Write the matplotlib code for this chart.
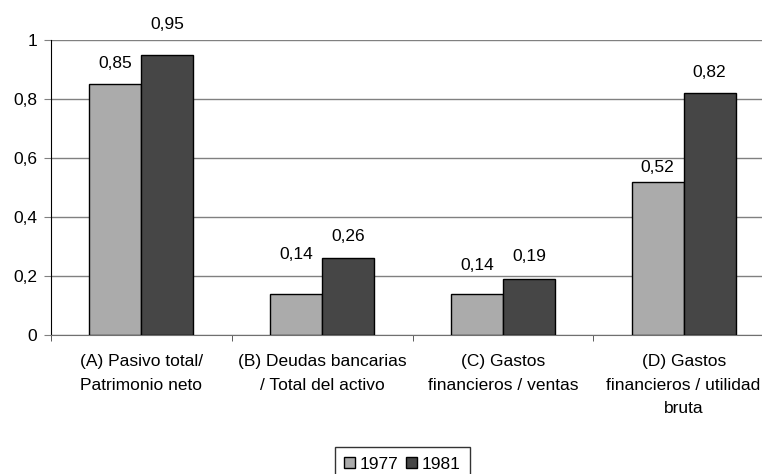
import matplotlib
matplotlib.use("Agg")
import matplotlib.pyplot as plt
import numpy as np

categories = [
    "(A) Pasivo total/\nPatrimonio neto",
    "(B) Deudas bancarias\n/ Total del activo",
    "(C) Gastos\nfinancieros / ventas",
    "(D) Gastos\nfinancieros / utilidad\nbruta",
]
years = ["1977", "1981"]
values_1977 = [0.85, 0.14, 0.14, 0.52]
values_1981 = [0.95, 0.26, 0.19, 0.82]
yticks = [0, 0.2, 0.4, 0.6, 0.8, 1]
ytick_labels = ["0", "0,2", "0,4", "0,6", "0,8", "1"]

# vertical offset (pixels) of each value label's centre above its bar
label_lift_1977 = [21, 39, 28, 14]
label_lift_1981 = [30, 22, 22, 21]

plt.rcParams["font.family"] = ["Liberation Sans", "DejaVu Sans"]
FS = 12.5
plt.rcParams["font.size"] = FS

W, H = 762, 474
fig = plt.figure(figsize=(W / 100, H / 100), dpi=100)
left, right, top, bottom = 51, 774, 40, 335
ax = fig.add_axes([left / W, 1 - bottom / H, (right - left) / W, (bottom - top) / H])

x = np.arange(len(categories))
bw = 0.287
light, dark = "#ABABAB", "#464646"
b1 = ax.bar(x - bw / 2, values_1977, bw, color=light, edgecolor="black", linewidth=1, label=years[0], zorder=3)
b2 = ax.bar(x + bw / 2, values_1981, bw, color=dark, edgecolor="black", linewidth=1, label=years[1], zorder=3)

def fmt(v):
    return f"{v:.2f}".replace(".", ",")

px = 72 / 100
for bars, vals, lifts in ((b1, values_1977, label_lift_1977), (b2, values_1981, label_lift_1981)):
    for rect, v, lift in zip(bars, vals, lifts):
        ax.annotate(fmt(v), (rect.get_x() + rect.get_width() / 2, v),
                    xytext=(0, lift * px), textcoords="offset points",
                    ha="center", va="center", fontsize=FS, annotation_clip=False)

ax.set_xlim(-0.5, 3.5)
ax.set_ylim(0, 1)
ax.set_yticks(yticks)
ax.set_yticklabels(ytick_labels)
ax.yaxis.grid(True, color="#808080", linewidth=1, zorder=0)
ax.set_axisbelow(True)

ax.set_xticks(x)
ax.set_xticklabels(categories, linespacing=1.68)
ax.set_xticks(np.arange(-0.5, 4, 1), minor=True)
ax.tick_params(axis="x", which="major", length=0, pad=14)
ax.tick_params(axis="x", which="minor", length=4, color="#404040", direction="out")
ax.tick_params(axis="y", length=5, color="#808080", direction="out", pad=5)

for s in ("top", "right"):
    ax.spines[s].set_visible(False)
ax.spines["left"].set_color("black")
ax.spines["bottom"].set_color("#707070")

leg = fig.legend(handles=[b1, b2], labels=years, loc="lower center",
                 bbox_to_anchor=(402.5 / W, -0.015), ncol=2, frameon=True,
                 fancybox=False, edgecolor="black", handlelength=0.6,
                 handleheight=0.6, handletextpad=0.3, columnspacing=0.45,
                 borderpad=0.55, borderaxespad=0, fontsize=FS)
leg.get_frame().set_linewidth(1)

fig.savefig("out.png", dpi=100)
